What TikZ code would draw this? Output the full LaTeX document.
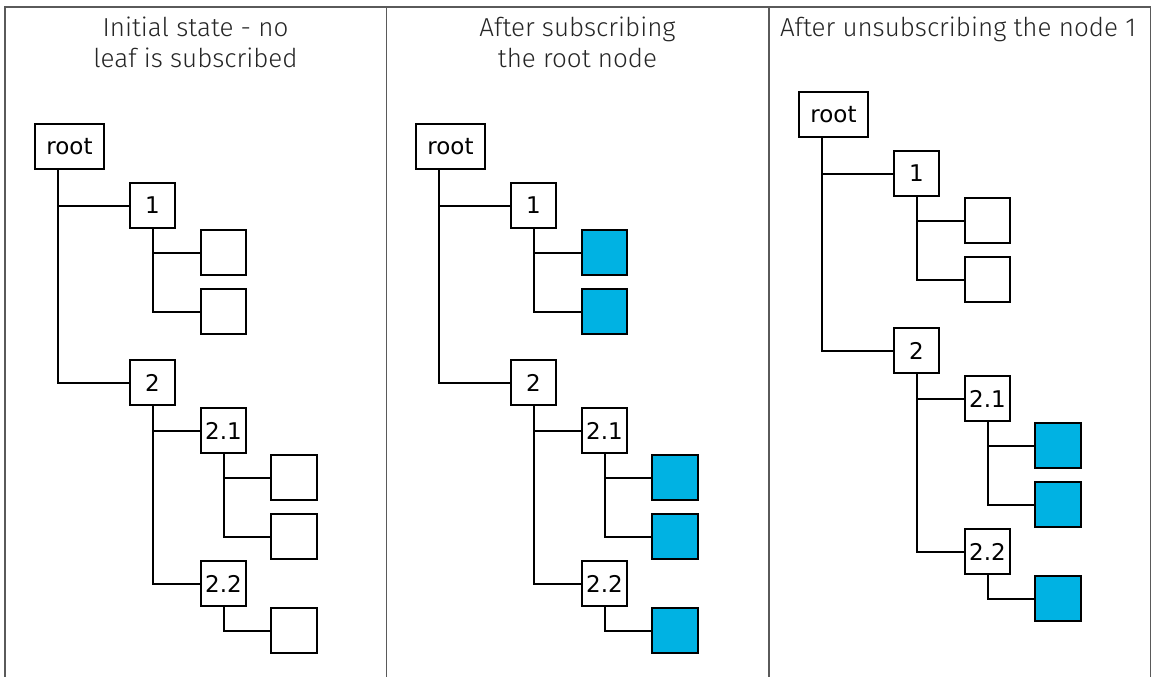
\documentclass[tikz,border=0pt]{standalone}
\usepackage{fontspec}
\newfontfamily\headfont{Fira Sans Light}
\newfontfamily\nodefont{DejaVu Sans}
\definecolor{zblue}{HTML}{00B2E3}
\definecolor{framegray}{HTML}{5A5A5A}
\newcommand\drawtree[4]{%
\begin{scope}[shift={(#4)}]
\node[rootbox] (#1root) at (69.5,146.5) {root};
\node[box] (#1n1) at (152.5,205.5) {1};
\node[#2] (#1l11) at (223.5,252.5) {};
\node[#2] (#1l12) at (223.5,311.5) {};
\node[box] (#1n2) at (152.5,382.5) {2};
\node[box] (#1n21) at (223.5,430.5) {2.1};
\node[#3] (#1l211) at (294,477.5) {};
\node[#3] (#1l212) at (294,536.5) {};
\node[box] (#1n22) at (223.5,583.5) {2.2};
\node[#3] (#1l221) at (294,630.5) {};
\draw[conn] ([xshift=24pt]#1root.south west) |- (#1n1.west);
\draw[conn] ([xshift=24pt]#1root.south west) |- (#1n2.west);
\draw[conn] (#1n1.south) |- (#1l11.west);
\draw[conn] (#1n1.south) |- (#1l12.west);
\draw[conn] (#1n2.south) |- (#1n21.west);
\draw[conn] (#1n2.south) |- (#1n22.west);
\draw[conn] (#1n21.south) |- (#1l211.west);
\draw[conn] (#1n21.south) |- (#1l212.west);
\draw[conn] (#1n22.south) |- (#1l221.west);
\end{scope}}
\begin{document}
\begin{tikzpicture}[x=1pt,y=-1pt,
 box/.style={draw=black,line width=2pt,minimum width=45.5pt,minimum height=45.5pt,inner sep=0pt,font=\nodefont\fontsize{23}{23}\selectfont,fill=white},
 rootbox/.style={box,minimum width=69pt},
 leafbox/.style={box},
 subleaf/.style={box,fill=zblue},
 conn/.style={line width=2pt},
 framel/.style={draw=framegray,line width=1.5pt},
 head/.style={anchor=base,inner sep=0pt,text=black!85,font=\headfont\fontsize{26}{26}\selectfont}]
\useasboundingbox (0,0) rectangle (1152,677);
\draw[framel] (5,677) -- (5,7) -- (1150.5,7) -- (1150.5,677);
\draw[framel] (386.5,7) -- (386.5,677);
\draw[framel] (769,7) -- (769,677);
\node[head] (h1a) at (195.5,37) {Initial state - no};
\node[head] (h1b) at (195.5,68) {leaf is subscribed};
\node[head] (h2a) at (577.5,37) {After subscribing};
\node[head] (h2b) at (577.5,68) {the root node};
\node[head] (h3) at (958,37) {After unsubscribing the node 1};
\drawtree{a}{leafbox}{leafbox}{0,0}
\drawtree{b}{subleaf}{subleaf}{381,0}
\drawtree{c}{leafbox}{subleaf}{764,-32}
\end{tikzpicture}
\end{document}
